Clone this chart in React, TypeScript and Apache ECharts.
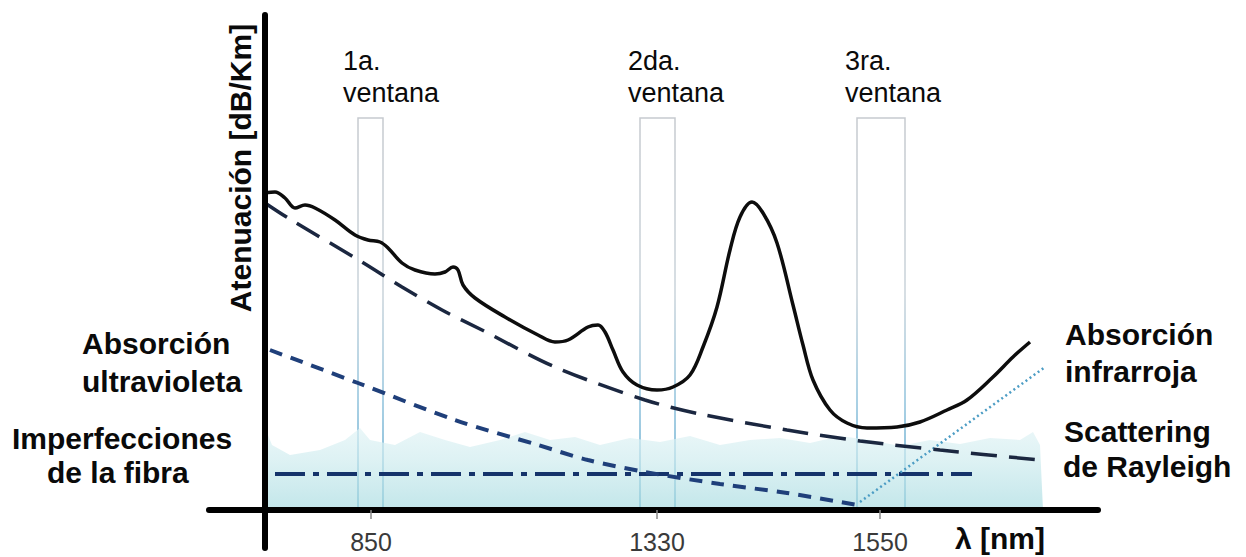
import { useEffect, useRef } from "react";
import * as echarts from "echarts";

// x: position along the schematic wavelength axis (axis units), y: attenuation (arbitrary units)
const totalAttenuation: [number, number][] = [
  [0.0, 63.4], [1.0, 63.6], [2.0, 62.4], [3.0, 60.4], [4.0, 61.0], [5.0, 60.4],
  [7.0, 58.0], [9.0, 55.0], [10.3, 54.0], [11.5, 53.6], [12.3, 52.4], [13.7, 49.4],
  [15.0, 48.0], [17.0, 47.2], [18.0, 47.6], [18.8, 48.6], [19.3, 48.0], [19.8, 45.0],
  [21.0, 42.4], [24.0, 38.6], [27.3, 35.0], [29.0, 33.6], [30.3, 34.0], [32.3, 36.6],
  [33.3, 37.0], [34.0, 35.6], [34.8, 32.0], [35.8, 27.6], [37.2, 25.0], [39.2, 24.0],
  [40.8, 24.6], [42.5, 27.0], [43.8, 32.6], [45.2, 40.6], [46.5, 52.0], [47.5, 58.6],
  [48.7, 61.6], [49.8, 59.4], [51.2, 53.4], [52.8, 41.0], [53.8, 33.0], [54.8, 26.0],
  [56.5, 20.0], [58.2, 17.4], [60.2, 16.4], [63.2, 16.6], [65.5, 17.6], [68.2, 20.0],
  [70.2, 22.0], [72.8, 26.6], [74.8, 30.6], [76.5, 33.6],
];

const rayleighScattering: [number, number][] = [
  [0.0, 61.4], [2.3, 58.4], [9.7, 49.6], [13.7, 44.6], [17.7, 40.0], [21.7, 36.0],
  [29.0, 28.6], [38.0, 22.0], [43.5, 19.2], [52.2, 16.0], [59.5, 13.8], [67.5, 12.0],
  [77.5, 10.0],
];

const ultravioletAbsorption: [number, number][] = [
  [0.5, 32.0], [9.3, 25.4], [19.0, 18.0], [27.3, 13.0], [32.3, 10.0], [38.0, 7.6],
  [45.5, 5.2], [52.2, 3.4], [59.2, 1.0],
];

const fiberImperfections: [number, number][] = [[1.0, 7.2], [70.7, 7.2]];

const infraredAbsorption: [number, number][] = [[59.5, 1.6], [78.0, 28.6]];

// Light background band of the fibre spectrum
const backgroundBand: [number, number][] = [
  [0, 18], [0.3, 15], [0.7, 13], [2.5, 11], [5.5, 12], [8, 14], [9.5, 16.4],
  [10.5, 14], [13, 13], [15.5, 15.6], [18, 14], [20.5, 12.6], [23.5, 14], [26, 15.6],
  [28.5, 14], [31, 14.6], [33.5, 13], [36.5, 14.4], [39.5, 13.6], [42.5, 14.8],
  [45.5, 13], [48.5, 14], [51.5, 14.4], [54.5, 13.4], [57.5, 14.8], [60.5, 14],
  [63.5, 12.8], [66.5, 14], [69.5, 13.2], [72.5, 14.4], [75.5, 14], [76.8, 15.6],
  [77.5, 13], [77.8, 0],
];

// Transmission windows: [start, end] on the x axis, common top
const windowRanges: [number, number][] = [[9.3, 11.8], [37.5, 41.0], [59.2, 64.0]];
const windowTop = 78.4;

const tickPositions = [10.6, 39.2, 61.5];
const tickLabels = ["850", "1330", "1550"];

const windowTitles = ["1a.", "2da.", "3ra."];
const windowSubtitle = "ventana";
const leftNotes = ["Absorción", "ultravioleta", "Imperfecciones", "de la fibra"];
const rightNotes = ["Absorción", "infrarroja", "Scattering", "de Rayleigh"];
const yAxisTitle = "Atenuación [dB/Km]";
const xAxisTitle = "λ [nm]";

const FONT = "'Liberation Sans', Arial, Helvetica, sans-serif";

export default function App() {
  const ref = useRef<HTMLDivElement>(null);

  useEffect(() => {
    if (!ref.current) return;
    const chart = echarts.init(ref.current, null, { renderer: "svg" });

    const windowLabelX = [343, 628, 845];
    const leftNoteX = [82, 82, 12, 47];
    const leftNoteY = [343, 381, 438, 472];
    const rightNoteX = [1065, 1065, 1064, 1063];
    const rightNoteY = [334, 371, 431, 466];

    const graphics: any[] = [];
    windowTitles.forEach((t, i) => {
      graphics.push({
        type: "text", x: windowLabelX[i], y: 61, silent: true,
        style: { text: t, fill: "#0a0a0a", font: `27px ${FONT}`, align: "left", verticalAlign: "middle" },
      });
      graphics.push({
        type: "text", x: windowLabelX[i], y: 93, silent: true,
        style: { text: windowSubtitle, fill: "#0a0a0a", font: `27px ${FONT}`, align: "left", verticalAlign: "middle" },
      });
    });
    leftNotes.forEach((t, i) => {
      graphics.push({
        type: "text", x: leftNoteX[i], y: leftNoteY[i], silent: true,
        style: { text: t, fill: "#0a0a0a", font: `bold 30px ${FONT}`, align: "left", verticalAlign: "middle" },
      });
    });
    rightNotes.forEach((t, i) => {
      graphics.push({
        type: "text", x: rightNoteX[i], y: rightNoteY[i], silent: true,
        style: { text: t, fill: "#0a0a0a", font: `bold 30px ${FONT}`, align: "left", verticalAlign: "middle" },
      });
    });
    graphics.push({
      type: "text", x: 240, y: 168, rotation: Math.PI / 2, silent: true,
      style: { text: yAxisTitle, fill: "#0a0a0a", font: `bold 30px ${FONT}`, align: "center", verticalAlign: "middle" },
    });
    graphics.push({
      type: "text", x: 955, y: 538, silent: true,
      style: { text: xAxisTitle, fill: "#0a0a0a", font: `bold 30px ${FONT}`, align: "left", verticalAlign: "middle" },
    });

    const windowBorder = new echarts.graphic.LinearGradient(0, 0, 0, 1, [
      { offset: 0, color: "#c6cacf" },
      { offset: 0.45, color: "#c9d3da" },
      { offset: 0.72, color: "#8fc2dc" },
      { offset: 1, color: "#4f9fc8" },
    ]);

    chart.setOption({
      animation: false,
      backgroundColor: "#ffffff",
      grid: { left: 209, right: 148, top: 15, bottom: 9, containLabel: false, outerBoundsMode: "none" },
      xAxis: {
        type: "value",
        min: -5.6,
        max: 83.3,
        z: 10,
        axisLine: { show: true, onZero: true, lineStyle: { color: "#000", width: 6 } },
        axisTick: {
          show: true,
          customValues: tickPositions,
          length: 9,
          lineStyle: { color: "#8a8a8a", width: 1.5 },
        },
        axisLabel: {
          show: true,
          customValues: tickPositions,
          formatter: (v: number) => {
            const i = tickPositions.findIndex((p) => Math.abs(p - v) < 1e-6);
            return i >= 0 ? tickLabels[i] : "";
          },
          margin: -19,
          fontSize: 25,
          fontFamily: FONT,
          color: "#3a3a3a",
        },
        splitLine: { show: false },
      },
      yAxis: {
        type: "value",
        min: -7.6,
        max: 99,
        z: 10,
        axisLine: { show: true, onZero: true, lineStyle: { color: "#000", width: 6 } },
        axisTick: { show: false },
        axisLabel: { show: false },
        splitLine: { show: false },
      },
      series: [
        {
          name: "fondo",
          type: "line",
          data: backgroundBand,
          symbol: "none",
          z: 1,
          lineStyle: { width: 0 },
          areaStyle: {
            origin: 0,
            color: new echarts.graphic.LinearGradient(0, 0, 0, 1, [
              { offset: 0, color: "#e6f5f7" },
              { offset: 0.45, color: "#cfecef" },
              { offset: 1, color: "#a9dce1" },
            ]),
          },
          markArea: {
            silent: true,
            label: { show: false },
            itemStyle: { color: "rgba(0,0,0,0)", borderColor: windowBorder, borderWidth: 1.5 },
            data: windowRanges.map(([a, b]) => [
              { xAxis: a, yAxis: 0 },
              { xAxis: b, yAxis: windowTop },
            ]),
          },
        },
        {
          name: "Imperfecciones de la fibra",
          type: "line",
          data: fiberImperfections,
          symbol: "none",
          z: 3,
          lineStyle: { color: "#15336b", width: 4, type: [30, 8, 6, 8] },
        },
        {
          name: "Absorción ultravioleta",
          type: "line",
          data: ultravioletAbsorption,
          symbol: "none",
          smooth: 0.3,
          z: 3,
          lineStyle: { color: "#1f3f7a", width: 4, type: [13, 9] },
        },
        {
          name: "Absorción infrarroja",
          type: "line",
          data: infraredAbsorption,
          symbol: "none",
          z: 3,
          lineStyle: { color: "#4b9cc4", width: 2.5, type: [2, 3] },
        },
        {
          name: "Scattering de Rayleigh",
          type: "line",
          data: rayleighScattering,
          symbol: "none",
          smooth: 0.3,
          z: 3,
          lineStyle: { color: "#1b2740", width: 3.5, type: [26, 12] },
        },
        {
          name: "Atenuación total",
          type: "line",
          data: totalAttenuation,
          symbol: "none",
          smooth: 0.35,
          z: 4,
          lineStyle: { color: "#0d0d0d", width: 3.5 },
        },
      ],
      graphic: graphics,
    });

    return () => chart.dispose();
  }, []);

  return (
    <div
      ref={ref}
      style={{ position: "fixed", left: 0, top: 0, width: 1246, height: 557, background: "#fff" }}
    />
  );
}
